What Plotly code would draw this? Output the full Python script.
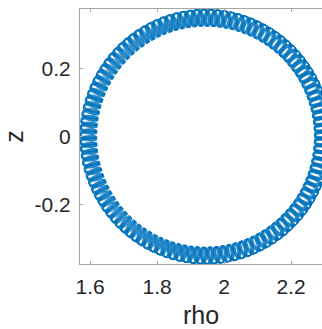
import numpy as np
import plotly.graph_objects as go

# Values
ring_center_rho = 1.945      # guiding-centre ring centre (rho)
ring_center_z = 0.0          # guiding-centre ring centre (z)
ring_radius = 0.35           # guiding-centre ring radius
gyro_radial = 0.025          # radial half-width of each small loop
gyro_tangential = 0.0115     # tangential half-width of each small loop
loops_per_turn = 110.045     # small loops counted around the ring
turns = 12                   # revolutions drawn
asym_power = 1.5             # loops widen toward larger rho

x_ticks = [1.6, 1.8, 2.0, 2.2]
x_tick_text = ["1.6", "1.8", "2", "2.2"]
y_ticks = [-0.2, 0.0, 0.2]
y_tick_text = ["-0.2", "0", "0.2"]
x_label = "rho"
y_label = "z"

t = np.linspace(0, turns, 80000)
theta = 2 * np.pi * t
phi = 2 * np.pi * loops_per_turn * t
gc_rho = ring_center_rho + ring_radius * np.cos(theta)
f = (gc_rho / ring_center_rho) ** asym_power
r = ring_radius + gyro_radial * np.cos(phi)
th = theta + gyro_tangential * f * np.sin(phi) / ring_radius
rho = ring_center_rho + r * np.cos(th)
z = ring_center_z + r * np.sin(th)

fig = go.Figure(go.Scatter(x=rho, y=z, mode="lines",
                           line=dict(color="#0072BD", width=0.5),
                           hoverinfo="skip"))

font = dict(family="Liberation Sans, Arial, sans-serif", size=21, color="#262626")
fig.update_layout(
    width=322, height=329,
    margin=dict(l=80, r=0, t=9, b=65),
    paper_bgcolor="white", plot_bgcolor="white",
    showlegend=False, font=font,
)
fig.update_xaxes(range=[1.570, 2.2925], tickvals=x_ticks, ticktext=x_tick_text,
                 showgrid=False, zeroline=False, showline=True, linecolor="#a6a6a6",
                 linewidth=1, mirror="ticks", ticks="inside", ticklen=3,
                 tickcolor="#a6a6a6", ticklabelstandoff=4,
                 title=dict(text=x_label, standoff=12))
fig.update_yaxes(range=[-0.375, 0.376], tickvals=y_ticks, ticktext=y_tick_text,
                 showgrid=False, zeroline=False, showline=True, linecolor="#a6a6a6",
                 linewidth=1, mirror=False, ticks="inside", ticklen=3,
                 tickcolor="#a6a6a6", ticklabelstandoff=4,
                 title=dict(text=y_label, standoff=6))
fig.write_html("out.html")
